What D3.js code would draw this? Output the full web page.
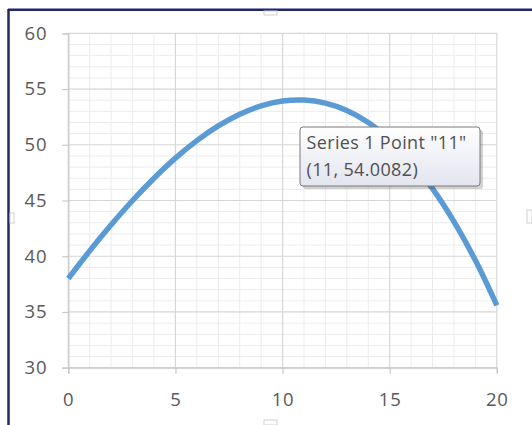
<!DOCTYPE html>
<html><head><meta charset="utf-8">
<script src="https://cdn.jsdelivr.net/npm/d3@7"></script>
<style>
html,body{margin:0;padding:0;background:#fff;overflow:hidden}
svg{display:block}
</style></head>
<body>
<script>
const xValues = [0,1,2,3,4,5,6,7,8,9,10,11,12,13,14,15,16,17,18,19,20];
const yValues = [38.0,40.48,42.82,45.0,47.0,48.8,50.37,51.69,52.74,53.49,53.92,54.0082,53.73,53.07,52.0,50.48,48.51,46.06,43.11,39.63,35.6];
const xTicks = [0,5,10,15,20];
const yTicks = [30,35,40,45,50,55,60];
const seriesName = "Series 1";
const hoverIndex = 11;

const W = 532, H = 425;
const svg = d3.select("body").append("svg").attr("width", W).attr("height", H);

const x = d3.scaleLinear().domain([0,20]).range([68.3,496.8]);
const y = d3.scaleLinear().domain([30,60]).range([367.7,33.3]);

// frame
svg.append("line").attr("x1",8.5).attr("x2",8.5).attr("y1",9).attr("y2",H).attr("stroke","#1f2768").attr("stroke-width",2.5);
svg.append("line").attr("x1",8).attr("x2",W).attr("y1",9.8).attr("y2",9.8).attr("stroke","#1f2768").attr("stroke-width",2.5);

// handles
const handles = [[264,11,13,4],[527,210,5,13],[10,213,4,10],[264,420,13,5]];
svg.selectAll("rect.h").data(handles).join("rect").attr("class","h")
  .attr("x",d=>d[0]).attr("y",d=>d[1]).attr("width",d=>d[2]).attr("height",d=>d[3])
  .attr("fill","#fff").attr("stroke","#d0d0d0").attr("stroke-width",1);

// minor grid
const minorX = d3.range(0,21,1).filter(v=>v%5!==0);
const minorY = d3.range(30,61,1).filter(v=>v%5!==0);
const g = svg.append("g");
g.selectAll("line.mx").data(minorX).join("line")
  .attr("x1",d=>x(d)).attr("x2",d=>x(d)).attr("y1",y(60)).attr("y2",y(30))
  .attr("stroke","#ececec").attr("stroke-width",1);
g.selectAll("line.my").data(minorY).join("line")
  .attr("x1",x(0)).attr("x2",x(20)).attr("y1",d=>y(d)).attr("y2",d=>y(d))
  .attr("stroke","#ececec").attr("stroke-width",1);
// major grid
g.selectAll("line.Mx").data(xTicks).join("line")
  .attr("x1",d=>x(d)).attr("x2",d=>x(d)).attr("y1",y(60)).attr("y2",y(30))
  .attr("stroke","#d6d6d6").attr("stroke-width",1.2);
g.selectAll("line.My").data(yTicks).join("line")
  .attr("x1",x(0)).attr("x2",x(20)).attr("y1",d=>y(d)).attr("y2",d=>y(d))
  .attr("stroke","#d6d6d6").attr("stroke-width",1.2);

// axes
const fontFam = "'Open Sans', 'DejaVu Sans', sans-serif";
const xAxis = svg.append("g").attr("transform",`translate(0,${y(30)})`)
  .call(d3.axisBottom(x).tickValues(xTicks).tickSize(6).tickPadding(19));
const yAxis = svg.append("g").attr("transform",`translate(${x(0)},0)`)
  .call(d3.axisLeft(y).tickValues(yTicks).tickSize(6).tickPadding(15));
[xAxis,yAxis].forEach(a=>{
  a.select(".domain").attr("stroke","#c8c8c8").attr("stroke-width",1.2);
  a.selectAll(".tick line").attr("stroke","#c8c8c8").attr("stroke-width",1.2);
  a.selectAll("text").attr("fill","#595959").attr("font-size","18.5px").attr("font-family",fontFam)
   .attr("letter-spacing","0.8px");
});

// line
const data = xValues.map((v,i)=>({x:v,y:yValues[i]}));
svg.append("path").datum(data)
  .attr("fill","none").attr("stroke","#5b9bd5").attr("stroke-width",5.5).attr("stroke-linecap","butt")
  .attr("d", d3.line().x(d=>x(d.x)).y(d=>y(d.y)).curve(d3.curveCatmullRom.alpha(0.5)));

// tooltip
const defs = svg.append("defs");
const grad = defs.append("linearGradient").attr("id","tg").attr("x1",0).attr("y1",0).attr("x2",0).attr("y2",1);
grad.append("stop").attr("offset","0%").attr("stop-color","#ffffff");
grad.append("stop").attr("offset","100%").attr("stop-color","#e3e5ef");
const tt = svg.append("g");
const bx=300, by=127, bw=180, bh=59;
tt.append("rect").attr("x",bx+3).attr("y",by+3).attr("width",bw).attr("height",bh).attr("rx",3)
  .attr("fill","#000").attr("opacity",0.18);
tt.append("rect").attr("x",bx).attr("y",by).attr("width",bw).attr("height",bh).attr("rx",3)
  .attr("fill","url(#tg)").attr("stroke","#7a7a7a").attr("stroke-width",1);
tt.append("text").attr("x",bx+6.5).attr("y",by+21.5)
  .attr("font-family",fontFam).attr("font-size","18px").attr("letter-spacing","0.35px").attr("fill","#505050")
  .text(`${seriesName} Point "${xValues[hoverIndex]}"`);
tt.append("text").attr("x",bx+6.5).attr("y",by+48.5)
  .attr("font-family",fontFam).attr("font-size","18px").attr("letter-spacing","0.35px").attr("fill","#505050")
  .text(`(${xValues[hoverIndex]}, ${yValues[hoverIndex]})`);
</script>
</body></html>
